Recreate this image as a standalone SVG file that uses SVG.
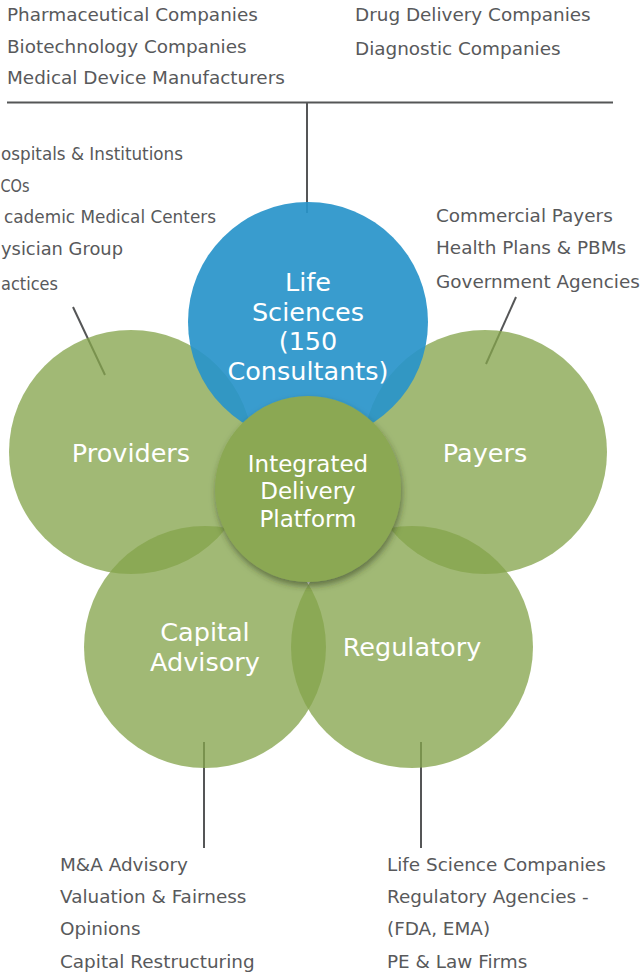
<svg xmlns="http://www.w3.org/2000/svg" width="644" height="974" viewBox="0 0 644 974">
  <defs>
    <filter id="shadow" x="-20%" y="-20%" width="140%" height="150%">
      <feDropShadow dx="1" dy="4" stdDeviation="3" flood-color="#2f3a1a" flood-opacity="0.55"/>
    </filter>
  </defs>
  <style>
    .t { font-family: "DejaVu Sans", "Liberation Sans", sans-serif; font-size: 18.4px; fill: #58595b; }
    .lbl { font-family: "DejaVu Sans", "Liberation Sans", sans-serif; font-size: 25.5px; fill: #ffffff; text-anchor: middle; }
    .lbl2 { font-family: "DejaVu Sans", "Liberation Sans", sans-serif; font-size: 23px; fill: #ffffff; text-anchor: middle; }
    .line { stroke: #555657; stroke-width: 2; fill: none; }
    .green { fill: #85a44b; fill-opacity: 0.77; }
    .blue { fill: #2894ca; fill-opacity: 0.92; }
    .core { fill: #8ba853; }
  </style>
  <rect width="644" height="974" fill="#ffffff"/>

  <g id="connectors">
    <line class="line" x1="7" y1="102.5" x2="613" y2="102.5"/>
    <line class="line" x1="307" y1="102" x2="307" y2="213"/>
    <line class="line" x1="73" y1="307" x2="105" y2="375"/>
    <line class="line" x1="516" y1="297" x2="486" y2="364"/>
    <line class="line" x1="204" y1="742" x2="204" y2="848"/>
    <line class="line" x1="421" y1="742" x2="421" y2="848"/>
  </g>

  <g id="life-sciences-clients">
    <text class="t" x="7" y="21">Pharmaceutical Companies</text>
    <text class="t" x="7" y="52.5">Biotechnology Companies</text>
    <text class="t" x="7" y="84">Medical Device Manufacturers</text>
    <text class="t" x="355" y="21">Drug Delivery Companies</text>
    <text class="t" x="355" y="55">Diagnostic Companies</text>
  </g>

  <g id="providers-clients">
    <text class="t" x="1" y="160" textLength="182" lengthAdjust="spacingAndGlyphs">ospitals &amp; Institutions</text>
    <text class="t" x="0.5" y="192" textLength="29" lengthAdjust="spacingAndGlyphs">COs</text>
    <text class="t" x="4" y="223" textLength="212" lengthAdjust="spacingAndGlyphs">cademic Medical Centers</text>
    <text class="t" x="1" y="255" textLength="122" lengthAdjust="spacingAndGlyphs">ysician Group</text>
    <text class="t" x="1" y="290" textLength="57" lengthAdjust="spacingAndGlyphs">actices</text>
  </g>

  <g id="payers-clients">
    <text class="t" x="436" y="222">Commercial Payers</text>
    <text class="t" x="436" y="254">Health Plans &amp; PBMs</text>
    <text class="t" x="436" y="288">Government Agencies</text>
  </g>

  <g id="capital-clients">
    <text class="t" x="60" y="871">M&amp;A Advisory</text>
    <text class="t" x="60" y="903">Valuation &amp; Fairness</text>
    <text class="t" x="60" y="935">Opinions</text>
    <text class="t" x="60" y="968">Capital Restructuring</text>
  </g>

  <g id="regulatory-clients">
    <text class="t" x="387" y="871">Life Science Companies</text>
    <text class="t" x="387" y="903">Regulatory Agencies -</text>
    <text class="t" x="387" y="935">(FDA, EMA)</text>
    <text class="t" x="387" y="968">PE &amp; Law Firms</text>
  </g>

  <g id="providers">
    <circle class="green" cx="131" cy="452" r="122"/>
    <text class="lbl" x="131" y="462">Providers</text>
  </g>
  <g id="payers">
    <circle class="green" cx="485" cy="452" r="122"/>
    <text class="lbl" x="485" y="462">Payers</text>
  </g>
  <g id="capital-advisory">
    <circle class="green" cx="205" cy="647" r="121"/>
    <text class="lbl" x="205" y="641">Capital</text>
    <text class="lbl" x="205" y="671">Advisory</text>
  </g>
  <g id="regulatory">
    <circle class="green" cx="412" cy="647" r="121"/>
    <text class="lbl" x="412" y="656">Regulatory</text>
  </g>
  <g id="life-sciences">
    <circle class="blue" cx="308" cy="322" r="120"/>
    <text class="lbl" x="308" y="291">Life</text>
    <text class="lbl" x="308" y="321">Sciences</text>
    <text class="lbl" x="308" y="350">(150</text>
    <text class="lbl" x="308" y="380">Consultants)</text>
  </g>
  <g id="integrated-delivery-platform">
    <circle class="core" cx="308" cy="489" r="93" filter="url(#shadow)"/>
    <text class="lbl2" x="308" y="472">Integrated</text>
    <text class="lbl2" x="308" y="499">Delivery</text>
    <text class="lbl2" x="308" y="527">Platform</text>
  </g>
</svg>
